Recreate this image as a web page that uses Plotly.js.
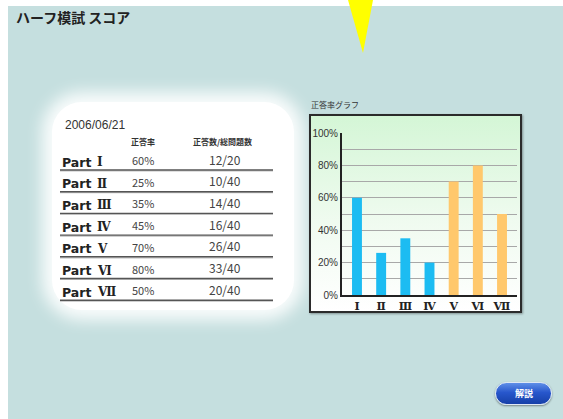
<!DOCTYPE html>
<html><head><meta charset="utf-8">
<script src="https://cdn.plot.ly/plotly-3.0.1.min.js"></script>
<style>
html,body{margin:0;padding:0;background:#fff;width:563px;height:419px;overflow:hidden;}
#bg{position:absolute;left:8px;top:6px;width:555px;height:413px;background:#c5dfdf;}
#panel{position:absolute;left:52px;top:102px;width:242px;height:208px;background:#fff;border-radius:30px;box-shadow:0 0 16px 10px rgba(255,255,255,0.9);}
#frame{position:absolute;left:309px;top:114px;width:213px;height:199px;box-sizing:border-box;border:2px solid #2b2b2b;background:linear-gradient(to bottom,#d4f6d6 0%,#f0fbf0 55%,#ffffff 100%);box-shadow:1px 1px 2px rgba(0,0,0,0.35);}
#btn{position:absolute;left:495px;top:382px;width:57px;height:23px;box-sizing:border-box;border-radius:12px;border:1px solid #dfe8f5;background:linear-gradient(to bottom,#5f8fe8 0%,#2857cc 45%,#1640a8 100%);box-shadow:0 1px 2px rgba(0,0,0,0.4);}
#plot{position:absolute;left:0;top:0;width:563px;height:419px;}
</style></head>
<body>
<div id="bg"></div><div id="panel"></div><div id="frame"></div><div id="btn"></div>
<div id="plot"></div>
<script>
// ---- data ----
var partNames = ["Part","Part","Part","Part","Part","Part","Part"];
var partNumerals = ["Ⅰ","Ⅱ","Ⅲ","Ⅳ","Ⅴ","Ⅵ","Ⅶ"];
var tableRates = [60,25,35,45,70,80,50];
var correctCounts = [12,10,14,16,26,33,20];
var totalCounts = [20,40,40,40,40,40,40];
var barCategories = ["Ⅰ","Ⅱ","Ⅲ","Ⅳ","Ⅴ","Ⅵ","Ⅶ"];
var barValues = [60,26,35,20,70,80,50];
var barColors = ["#1cbcf2","#1cbcf2","#1cbcf2","#1cbcf2","#ffc86c","#ffc86c","#ffc86c"];
var yTickVals = [0,10,20,30,40,50,60,70,80,90,100];
var yTickText = ["0%","","20%","","40%","","60%","","80%","","100%"];
var examDate = "2006/06/21";

// ---- layout helpers ----
var W=563,H=419;
function X(p){return p/W;}
function Y(p){return 1-p/H;}

var annotations=[], shapes=[];
var cjk = "Noto Sans CJK JP, sans-serif";
var serif = "DejaVu Serif, Liberation Serif, serif";

annotations.push({text:"ハーフ模試 スコア",x:X(14),y:Y(17),xref:"paper",yref:"paper",xanchor:"left",yanchor:"middle",showarrow:false,font:{family:cjk,size:14,color:"#222",weight:"bold"}});
annotations.push({text:"正答率グラフ",x:X(309),y:Y(104),xref:"paper",yref:"paper",xanchor:"left",yanchor:"middle",showarrow:false,font:{family:cjk,size:8,color:"#333"}});
annotations.push({text:"<b>解説</b>",x:X(523.5),y:Y(393),xref:"paper",yref:"paper",xanchor:"center",yanchor:"middle",showarrow:false,font:{family:cjk,size:9,color:"#fff"}});
annotations.push({text:examDate,x:X(63),y:Y(125),xref:"paper",yref:"paper",xanchor:"left",yanchor:"middle",showarrow:false,font:{family:"Liberation Sans, sans-serif",size:12,color:"#333"}});
annotations.push({text:"<b>正答率</b>",x:X(143),y:Y(141),xref:"paper",yref:"paper",xanchor:"center",yanchor:"middle",showarrow:false,font:{family:cjk,size:8,color:"#333"}});
annotations.push({text:"<b>正答数/総問題数</b>",x:X(222),y:Y(141),xref:"paper",yref:"paper",xanchor:"center",yanchor:"middle",showarrow:false,font:{family:cjk,size:8,color:"#333"}});

var lineY0=170, lineStep=21.7;
for(var i=0;i<partNames.length;i++){
  var ly=lineY0+i*lineStep;
  shapes.push({type:"line",xref:"paper",yref:"paper",x0:X(60),x1:X(273),y0:Y(ly+1),y1:Y(ly+1),line:{color:"#c0c0c0",width:1.2}});
  shapes.push({type:"line",xref:"paper",yref:"paper",x0:X(60),x1:X(273),y0:Y(ly),y1:Y(ly),line:{color:"#555",width:1.4}});
  annotations.push({text:"<b>"+partNames[i]+"</b>",x:X(60),y:Y(ly-8),xref:"paper",yref:"paper",xanchor:"left",yanchor:"middle",showarrow:false,font:{family:"DejaVu Sans, Liberation Sans, sans-serif",size:12.5,color:"#222"}});
  annotations.push({text:"<b>"+partNumerals[i]+"</b>",x:X(95),y:Y(ly-8),xref:"paper",yref:"paper",xanchor:"left",yanchor:"middle",showarrow:false,font:{family:serif,size:12,color:"#222"}});
  annotations.push({text:tableRates[i]+"%",x:X(143),y:Y(ly-10),xref:"paper",yref:"paper",xanchor:"center",yanchor:"middle",showarrow:false,font:{family:cjk,size:11,color:"#444"}});
  annotations.push({text:correctCounts[i]+"/"+totalCounts[i],x:X(225),y:Y(ly-11),xref:"paper",yref:"paper",xanchor:"center",yanchor:"middle",showarrow:false,font:{family:cjk,size:12,color:"#444"}});
}

// yellow pointer triangle
shapes.push({type:"path",xref:"paper",yref:"paper",path:"M "+X(348)+" "+Y(0)+" L "+X(373)+" "+Y(0)+" L "+X(363)+" "+Y(53)+" Z",fillcolor:"#ffff00",line:{width:0}});

var trace={type:"bar",x:barCategories,y:barValues,marker:{color:barColors,line:{width:0}},hoverinfo:"skip"};

var layout={
  width:W,height:H,margin:{l:0,r:0,t:0,b:0},
  paper_bgcolor:"rgba(0,0,0,0)",plot_bgcolor:"rgba(0,0,0,0)",
  showlegend:false,bargap:0.59,
  xaxis:{domain:[X(342),X(517)],range:[-0.62,6.62],type:"category",showgrid:false,zeroline:false,showline:true,linecolor:"#222",linewidth:2,ticks:"",tickfont:{family:serif,size:11,color:"#222",weight:"bold"},fixedrange:true},
  yaxis:{domain:[Y(295),Y(133)],range:[0,100],tickvals:yTickVals,ticktext:yTickText,showgrid:true,gridcolor:"#a8a8a8",gridwidth:1,zeroline:false,showline:true,linecolor:"#222",linewidth:2,ticks:"",tickfont:{family:"Liberation Sans, sans-serif",size:10,color:"#333"},fixedrange:true},
  annotations:annotations,shapes:shapes
};
Plotly.newPlot("plot",[trace],layout,{staticPlot:true,displayModeBar:false});
</script>
</body></html>
